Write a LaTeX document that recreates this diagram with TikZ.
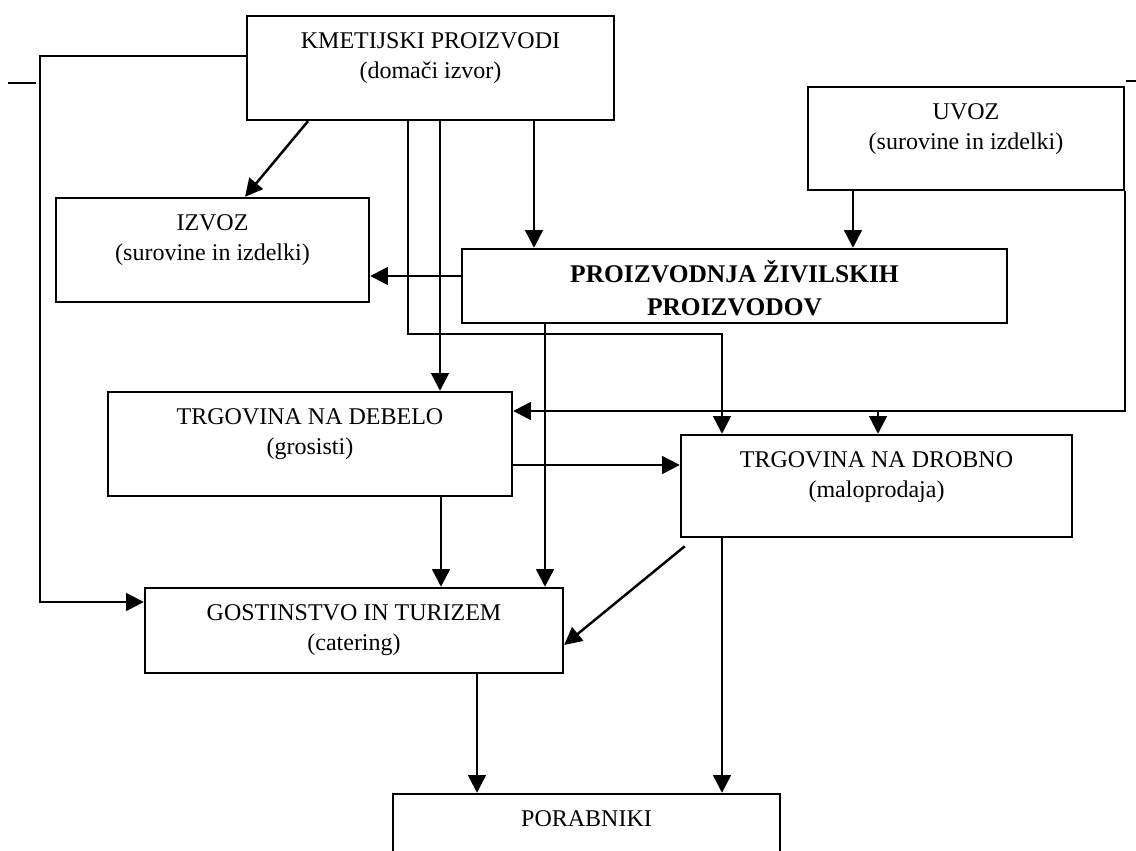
\documentclass[tikz,border=0pt]{standalone}
\usepackage{fontspec}
\setmainfont{Liberation Serif}
\usetikzlibrary{arrows.meta}

\begin{document}
\begin{tikzpicture}[x=0.02cm,y=-0.02cm,
		box/.style={draw,line width=1.4pt,inner sep=0pt},
		txt/.style={anchor=north,align=center,inner sep=0pt,yshift=-10pt,font=\fontsize{13.66}{17}\selectfont},
		arr/.style={line width=1.4pt,-{Triangle[length=10pt,width=10pt]}},
		ln/.style={line width=1.4pt}]
		\clip (0,0) rectangle (1136,851);
		\node [box,minimum width=7.34cm,minimum height=2.08cm] (kmet) at (430.5,68) {};
		\node [txt] (kmet-t) at (kmet.north) {KMETIJSKI PROIZVODI\\(domači izvor)};
		\node [box,minimum width=6.32cm,minimum height=2.06cm] (uvoz) at (966,138.5) {};
		\node [txt] (uvoz-t) at (uvoz.north) {UVOZ\\(surovine in izdelki)};
		\node [box,minimum width=6.26cm,minimum height=2.08cm] (izvoz) at (212.5,250) {};
		\node [txt] (izvoz-t) at (izvoz.north) {IZVOZ\\(surovine in izdelki)};
		\node [box,minimum width=10.9cm,minimum height=1.48cm] (proizv) at (734.5,286) {};
		\node [txt,yshift=3pt,font=\fontsize{14.5}{18.8}\selectfont\bfseries] (proizv-t) at (proizv.north) {PROIZVODNJA ŽIVILSKIH\\PROIZVODOV};
		\node [box,minimum width=8.08cm,minimum height=2.08cm] (debelo) at (310,444) {};
		\node [txt] (debelo-t) at (debelo.north) {TRGOVINA NA DEBELO\\(grosisti)};
		\node [box,minimum width=7.82cm,minimum height=2.04cm] (drobno) at (876.5,486) {};
		\node [txt] (drobno-t) at (drobno.north) {TRGOVINA NA DROBNO\\(maloprodaja)};
		\node [box,minimum width=8.36cm,minimum height=1.7cm] (gost) at (354,630.5) {};
		\node [txt] (gost-t) at (gost.north) {GOSTINSTVO IN TURIZEM\\(catering)};
		\node [box,minimum width=7.74cm,minimum height=2.12cm] (porab) at (586.5,847) {};
		\node [txt] (porab-t) at (porab.north) {PORABNIKI};
		\coordinate (fork) at (878,411);
		\draw [arr] (kmet.west |- 0,56) -- (40,56) -- (40,602) -- (gost.west |- 0,602);
		\draw [arr] (kmet.south -| 308,0) -- (izvoz.north -| 245,0);
		\draw [arr] (kmet.south -| 408,0) |- (722,334) -- (drobno.north -| 722,0);
		\draw [arr] (kmet.south -| 440,0) -- (debelo.north -| 440,0);
		\draw [arr] (kmet.south -| 534,0) -- (proizv.north -| 534,0);
		\draw [arr] (uvoz.south -| 853,0) -- (proizv.north -| 853,0);
		\draw [arr] (proizv.west |- 0,276) -- (izvoz.east |- 0,276);
		\draw [arr] (proizv.south -| 545,0) -- (gost.north -| 545,0);
		\draw [arr] (uvoz.south east) |- (debelo.east |- fork);
		\draw [arr] (fork) -- (drobno.north -| fork);
		\draw [arr] (debelo.east |- 0,465) -- (drobno.west |- 0,465);
		\draw [arr] (debelo.south -| 441,0) -- (gost.north -| 441,0);
		\draw [arr] ([shift={(5,8)}]drobno.south west) -- (gost.east |- 0,645);
		\draw [arr] (gost.south -| 477,0) -- (porab.north -| 477,0);
		\draw [arr] (drobno.south -| 722,0) -- (porab.north -| 722,0);
		\draw [ln] (8,83) -- (36,83);
		\draw [ln] (1126,81) -- (1136,81);
	\end{tikzpicture}
\end{document}
